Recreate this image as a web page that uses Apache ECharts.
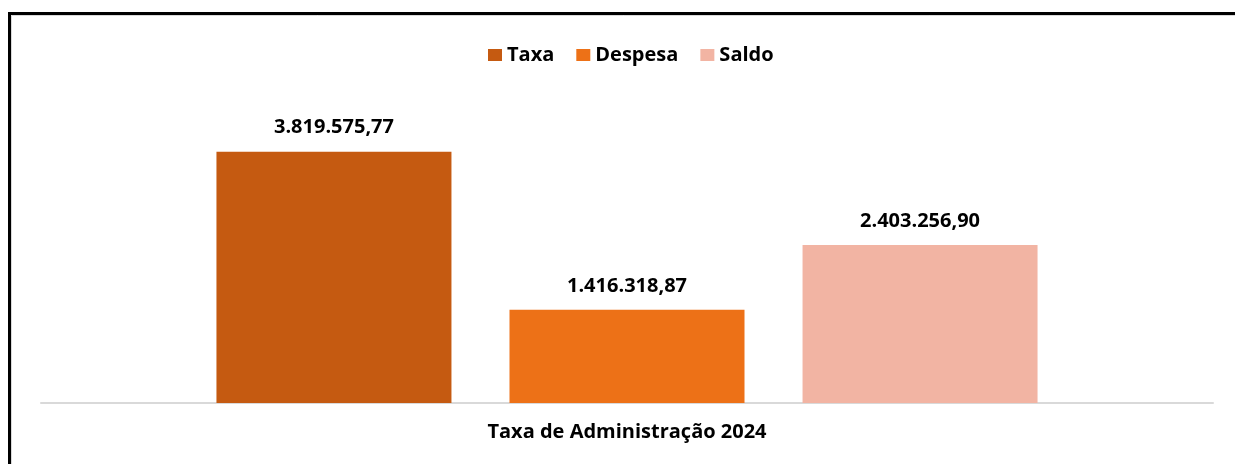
<!DOCTYPE html>
<html>
<head>
<meta charset="utf-8">
<script src="https://cdn.jsdelivr.net/npm/echarts@6/dist/echarts.min.js"></script>
<style>
  html, body { margin: 0; padding: 0; background: #fff; }
  #chart { width: 1235px; height: 464px; }
</style>
</head>
<body>
<div id="chart"></div>
<script>
"use strict";

var categories = ['Taxa de Administração 2024'];
var seriesNames = ['Taxa', 'Despesa', 'Saldo'];
var taxaValues = [3819575.77];
var despesaValues = [1416318.87];
var saldoValues = [2403256.90];
var colors = ['#C55A11', '#ED7117', '#F2B4A3'];

var FONT = '"Open Sans", sans-serif';

// 1234567.89 -> 1.234.567,89
function fmtBR(v) {
  var parts = v.toFixed(2).split('.');
  var intPart = parts[0].replace(/\B(?=(\d{3})+(?!\d))/g, '.');
  return intPart + ',' + parts[1];
}

var chart = echarts.init(document.getElementById('chart'));

function makeSeries(name, data, color) {
  return {
    name: name,
    type: 'bar',
    data: data,
    barWidth: 235,
    barGap: '24.7%',
    itemStyle: { color: color },
    label: {
      show: true,
      position: 'top',
      distance: 14,
      color: '#000',
      fontFamily: FONT,
      fontWeight: 'bold',
      fontSize: 20,
      formatter: function (p) { return fmtBR(p.value); }
    }
  };
}

var option = {
  animation: false,
  color: colors,
  legend: {
    top: 40,
    left: 483,
    itemWidth: 14,
    itemHeight: 12,
    itemGap: 22,
    icon: 'rect',
    data: seriesNames,
    textStyle: {
      color: '#000',
      fontFamily: FONT,
      fontWeight: 'bold',
      fontSize: 20
    }
  },
  grid: {
    left: 41,
    right: 22,
    top: 107,
    bottom: 61,
    containLabel: false
  },
  xAxis: {
    type: 'category',
    data: categories,
    axisLine: { lineStyle: { color: '#d9d9d9', width: 2 } },
    axisTick: { show: false },
    axisLabel: {
      margin: 19,
      color: '#000',
      fontFamily: FONT,
      fontWeight: 'bold',
      fontSize: 20
    }
  },
  yAxis: {
    type: 'value',
    min: 0,
    max: 4500000,
    show: false,
    splitLine: { show: false }
  },
  series: [
    makeSeries(seriesNames[0], taxaValues, colors[0]),
    makeSeries(seriesNames[1], despesaValues, colors[1]),
    makeSeries(seriesNames[2], saldoValues, colors[2])
  ],
  graphic: [
    {
      type: 'polyline',
      shape: { points: [[9.5, 600], [9.5, 13.5], [1400, 13.5]] },
      style: { fill: 'none', stroke: '#000', lineWidth: 3 },
      silent: true
    },
    {
      type: 'polyline',
      shape: { points: [[11.5, 600], [11.5, 15.5], [1400, 15.5]] },
      style: { fill: 'none', stroke: '#d9d9d9', lineWidth: 1 },
      silent: true
    }
  ]
};

chart.setOption(option);
</script>
</body>
</html>
